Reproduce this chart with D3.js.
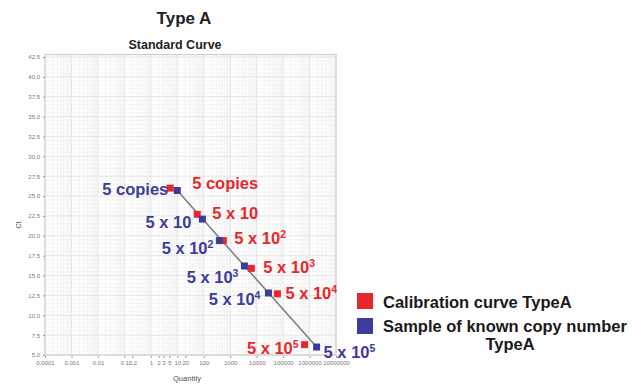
<!DOCTYPE html>
<html>
<head>
<meta charset="utf-8">
<script src="https://cdn.jsdelivr.net/npm/d3@7"></script>
<style>
  body { margin: 0; background: #fff; }
  text { font-family: Arial, "Liberation Sans", sans-serif; }
</style>
</head>
<body>
<div id="chart"></div>
<script>
// Standard curve values (quantity, Ct)
let calibQty = [5.4, 57, 550, 6300, 61000, 650000];
let calibCt = [26.0, 22.7, 19.4, 15.9, 12.7, 6.3];
let sampleQty = [10, 89, 390, 3460, 28000, 1850000];
let sampleCt = [25.7, 22.1, 19.4, 16.2, 12.8, 6.0];

// label for each point pair: base text and exponent (empty = none)
let pointBase = ["5 copies", "5 x 10", "5 x 10", "5 x 10", "5 x 10", "5 x 10"];
let pointExp = ["", "", "2", "3", "4", "5"];

let yTicks = [5.0, 7.5, 10.0, 12.5, 15.0, 17.5, 20.0, 22.5, 25.0, 27.5, 30.0, 32.5, 35.0, 37.5, 40.0, 42.5];
let xTickValues = [0.0001, 0.001, 0.01, 0.1, 0.2, 1, 2, 3, 5, 10, 20, 100, 1000, 10000, 100000, 1000000, 10000000];
let xTickLabels = ["0.0001", "0.001", "0.01", "0.1", "0.2", "1", "2", "3", "5", "10", "20", "100", "1000", "10000", "100000", "1000000", "10000000"];

let legendNames = ["Calibration curve TypeA", "Sample of known copy number"];

let red = "#e8262b";
let blue = "#3c3c9c";

let width = 642, height = 385;
let svg = d3.select("#chart").append("svg")
  .attr("width", width).attr("height", height);

let x = d3.scaleLog().domain([0.0001, 10000000]).range([45, 336]);
let y = d3.scaleLinear().domain([5, 42.5]).range([355, 57]);

// grid: minor then major
let grid = svg.append("g");
let minorX = [];
for (let e = -4; e < 7; e++) {
  for (let m = 2; m < 10; m++) minorX.push(m * Math.pow(10, e));
}
grid.selectAll(".vminor").data(minorX).enter().append("line")
  .attr("x1", d => x(d)).attr("x2", d => x(d))
  .attr("y1", y(42.8)).attr("y2", y(5))
  .attr("stroke", "#f0f0f0").attr("stroke-width", 0.8);
let minorY = d3.range(5, 42.6, 0.5);
grid.selectAll(".hminor").data(minorY).enter().append("line")
  .attr("x1", x.range()[0]).attr("x2", x.range()[1])
  .attr("y1", d => y(d)).attr("y2", d => y(d))
  .attr("stroke", "#f3f3f3").attr("stroke-width", 0.8);
let majorX = d3.range(-4, 8).map(e => Math.pow(10, e));
grid.selectAll(".vmajor").data(majorX).enter().append("line")
  .attr("x1", d => x(d)).attr("x2", d => x(d))
  .attr("y1", y(42.8)).attr("y2", y(5))
  .attr("stroke", "#e4e4e4").attr("stroke-width", 1);
grid.selectAll(".hmajor").data(yTicks).enter().append("line")
  .attr("x1", x.range()[0]).attr("x2", x.range()[1])
  .attr("y1", d => y(d)).attr("y2", d => y(d))
  .attr("stroke", "#e6e6e6").attr("stroke-width", 1);

// frame
svg.append("rect")
  .attr("x", x.range()[0]).attr("y", y(42.8))
  .attr("width", x.range()[1] - x.range()[0])
  .attr("height", y(5) - y(42.8))
  .attr("fill", "none").attr("stroke", "#c8c8c8");

// axes
let yAxis = d3.axisLeft(y).tickValues(yTicks).tickFormat(d3.format(".1f")).tickSize(2);
let gy = svg.append("g").attr("transform", "translate(45,0)").call(yAxis);
let xAxis = d3.axisBottom(x).tickValues(xTickValues)
  .tickFormat((d, i) => xTickLabels[i]).tickSize(2);
let gx = svg.append("g").attr("transform", "translate(0,356)").call(xAxis);
[gy, gx].forEach(g => {
  g.select(".domain").remove();
  g.selectAll("line").attr("stroke", "#999");
  g.selectAll("text").attr("fill", "#777").attr("font-size", 6)
    .attr("font-family", "Arial, sans-serif");
});

// titles
svg.append("text").attr("x", 184).attr("y", 24).attr("text-anchor", "middle")
  .attr("font-size", 17).attr("font-weight", "bold").attr("fill", "#222").text("Type A");
svg.append("text").attr("x", 175).attr("y", 49).attr("text-anchor", "middle")
  .attr("font-size", 12.5).attr("font-weight", "bold").attr("fill", "#222").text("Standard Curve");
svg.append("text").attr("transform", "translate(21,225) rotate(-90)")
  .attr("text-anchor", "middle").attr("font-size", 7).attr("fill", "#555").text("Ct");
svg.append("text").attr("x", 187).attr("y", 381).attr("text-anchor", "middle")
  .attr("font-size", 7.5).attr("fill", "#555").text("Quantity");

// fit line through the sample points
let n = sampleQty.length;
svg.append("line")
  .attr("x1", x(sampleQty[0])).attr("y1", y(sampleCt[0]))
  .attr("x2", x(sampleQty[n - 1])).attr("y2", y(sampleCt[n - 1]))
  .attr("stroke", "#7a7a7a").attr("stroke-width", 1.5);

// markers
let s = 7;
svg.selectAll(".calib").data(calibQty).enter().append("rect")
  .attr("x", d => x(d) - s / 2).attr("y", (d, i) => y(calibCt[i]) - s / 2)
  .attr("width", s).attr("height", s).attr("fill", red);
svg.selectAll(".sample").data(sampleQty).enter().append("rect")
  .attr("x", d => x(d) - s / 2).attr("y", (d, i) => y(sampleCt[i]) - s / 2)
  .attr("width", s).attr("height", s).attr("fill", blue);

// annotation labels
function addLabel(px, py, i, color, anchor) {
  let t = svg.append("text").attr("x", px).attr("y", py)
    .attr("text-anchor", anchor).attr("font-size", 16.5).attr("font-weight", "bold")
    .attr("fill", color);
  t.append("tspan").text(pointBase[i]);
  if (pointExp[i]) {
    t.append("tspan").attr("dy", -6).attr("font-size", 10.5).text(pointExp[i]);
  }
}
// red labels to the right of calibration points
let redOffsets = [[22, 1], [15, 5], [11, 3], [12, 5], [8, 5], [-6, 9]];
calibQty.forEach((d, i) => {
  let anchor = i === n - 1 ? "end" : "start";
  addLabel(x(d) + redOffsets[i][0], y(calibCt[i]) + redOffsets[i][1], i, red, anchor);
});
// blue labels to the left of sample points
let blueOffsets = [[-9, 4], [-11, 9], [-6, 13], [-6, 17], [-8, 12], [7, 11]];
sampleQty.forEach((d, i) => {
  let anchor = i === n - 1 ? "start" : "end";
  addLabel(x(d) + blueOffsets[i][0], y(sampleCt[i]) + blueOffsets[i][1], i, blue, anchor);
});

// legend
let legend = svg.append("g");
let legendColors = [red, blue];
legendNames.forEach((name, i) => {
  legend.append("rect").attr("x", 357).attr("y", 293 + i * 25)
    .attr("width", 16).attr("height", 16).attr("fill", legendColors[i]);
  legend.append("text").attr("x", 383).attr("y", 308 + i * 24)
    .attr("font-size", 16.5).attr("font-weight", "bold").attr("fill", "#1a1a1a").text(name);
});
legend.append("text").attr("x", 510).attr("y", 350).attr("text-anchor", "middle")
  .attr("font-size", 16.5).attr("font-weight", "bold").attr("fill", "#1a1a1a").text("TypeA");
</script>
</body>
</html>
